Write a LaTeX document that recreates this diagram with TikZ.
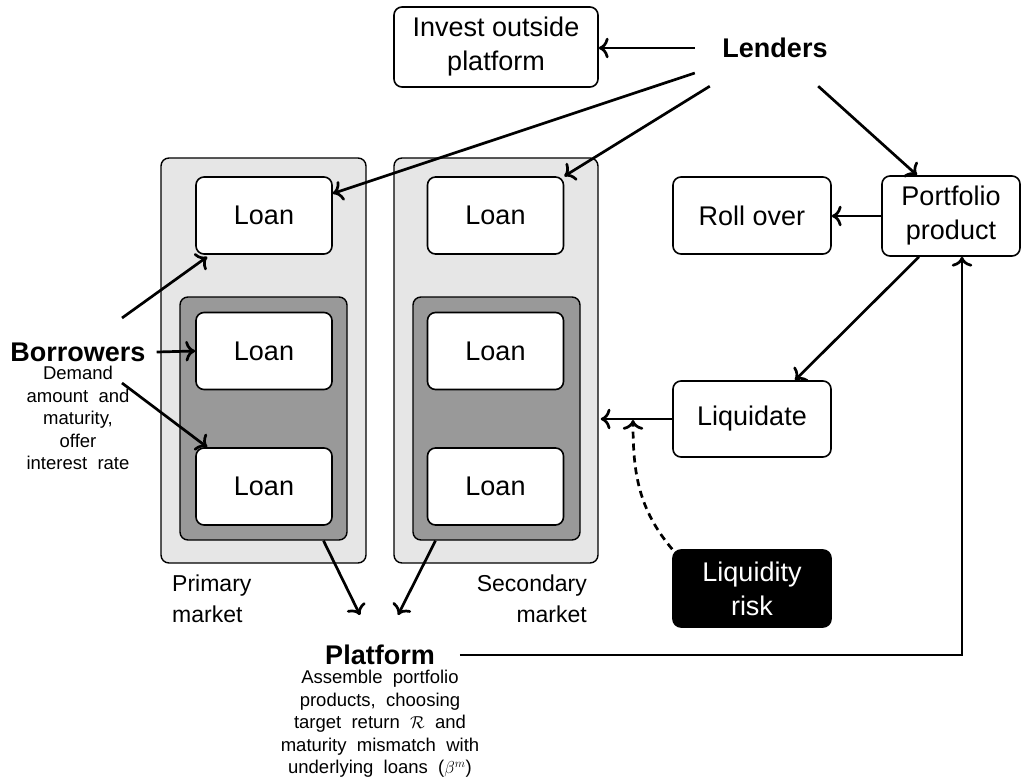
\documentclass[tikz,border=0pt]{standalone}
\usepackage{fontspec}
\setmainfont{Liberation Sans}
\usetikzlibrary{arrows.meta}
\definecolor{outerfill}{HTML}{E6E6E6}
\definecolor{innerfill}{HTML}{999999}
\tikzset{
  big/.style={font=\fontsize{27}{34}\selectfont},
  boxnode/.style={draw, rounded corners=8pt, fill=white, line width=1.6pt, align=center, big, inner sep=0pt},
  loanbox/.style={boxnode, minimum width=136pt, minimum height=77pt},
  sidebox/.style={boxnode, minimum width=158pt, minimum height=77pt},
  outerbox/.style={draw, rounded corners=8pt, fill=outerfill, line width=1.4pt, minimum width=205pt, minimum height=405pt, inner sep=0pt},
  innerbox/.style={draw, rounded corners=8pt, fill=innerfill, line width=1.4pt, minimum width=167pt, minimum height=243pt, inner sep=0pt},
  arr/.style={line width=2.7pt, -{To[scale=1.3]}},
  small/.style={font=\fontsize{18.5}{22.4}\selectfont, align=center, inner sep=0pt},
  label/.style={font=\fontsize{23}{31}\selectfont, inner sep=0pt},
}
\begin{document}
\begin{tikzpicture}[x=1pt, y=-1pt]
\useasboundingbox (0,0) rectangle (1031,781);
% containers
\node[outerbox] (prim) at (263.5,360.5) {};
\node[outerbox, minimum width=204pt] (sec) at (496,360.5) {};
\node[innerbox] (primin) at (263.5,418.5) {};
\node[innerbox] (secin) at (496.5,418.5) {};
% loans
\node[loanbox] (P1) at (264,215.5) {Loan};
\node[loanbox] (P2) at (264,351) {Loan};
\node[loanbox] (P3) at (264,486.5) {Loan};
\node[loanbox] (S1) at (495.5,215.5) {Loan};
\node[loanbox] (S2) at (495.5,351) {Loan};
\node[loanbox] (S3) at (495.5,486.5) {Loan};
% other boxes
\node[boxnode, minimum width=204pt, minimum height=80pt] (invest) at (496,47) {Invest outside\\platform};
\node[sidebox] (roll) at (752,215.5) {Roll over};
\node[boxnode, minimum width=138pt, minimum height=80pt] (port) at (951,216) {Portfolio\\product};
\node[sidebox, minimum height=76pt] (liq) at (752,419) {Liquidate};
\node[sidebox, fill=black, text=white] (risk) at (752,588.5) {Liquidity\\risk};
% actors
\node[font=\fontsize{27}{34}\selectfont\bfseries, minimum width=160pt, minimum height=76pt, inner sep=0pt] (lenders) at (775,48) {Lenders};
\node[font=\fontsize{27}{34}\selectfont\bfseries, inner xsep=11pt, inner ysep=0pt] (borrowers) at (78,352) {Borrowers};
\node[small] (bdesc) at (78,418) {Demand\\amount\ \ and\\maturity,\\offer\\interest\ \ rate};
\node[font=\fontsize{27}{34}\selectfont\bfseries, inner xsep=25pt, inner ysep=0pt] (platform) at (380,655) {Platform};
\node[small] (pdesc) at (380,724) {Assemble\ \ portfolio\\products,\ \ choosing\\target\ \ return\ \ $\mathcal{R}$\ \ and\\maturity\ \ mismatch\ \ with\\underlying\ \ loans\ \ ($\beta^m$)};
% market labels
\node[label, anchor=base west, align=left] (primlab) at (172,622) {Primary\\market};
\node[label, anchor=base east, align=right] (seclab) at (587,622) {Secondary\\market};
% coordinates
\coordinate (b1) at (122,318);
\coordinate (b3) at (122,383);
\coordinate (pa) at (360,615);
\coordinate (pb) at (398,615);
\coordinate (lq) at (633,420);
% arrows
\draw[arr] (lenders.west) -- (lenders.west -| invest.east);
\draw[arr] ([yshift=-25pt]lenders.west) -- ([yshift=22pt]P1.east);
\draw[arr] ([xshift=15pt]lenders.south west) -- (S1.north east);
\draw[arr] ([xshift=-37pt]lenders.south east) -- ([xshift=-34pt]port.north);
\draw[arr] (port.west) -- (port.west -| roll.east);
\draw[arr] ([xshift=-32pt]port.south) -- ([xshift=43pt]liq.north);
\draw[arr] (liq.west) -- ([xshift=2pt]liq.west -| sec.east);
\draw[arr, dashed, dash pattern=on 7pt off 5pt] (risk.north west) to[out=130, in=270] (lq);
\draw[arr] (platform.east) -| ([xshift=11pt]port.south);
\draw[arr] ([xshift=60pt]primin.south) -- (pa);
\draw[arr] ([xshift=-61pt]secin.south) -- (pb);
\draw[arr] (b1) -- ([xshift=12pt,yshift=-2pt]P1.south west);
\draw[arr] (borrowers.east) -- (P2.west);
\draw[arr] (b3) -- ([xshift=12pt]P3.north west);
\end{tikzpicture}
\end{document}
